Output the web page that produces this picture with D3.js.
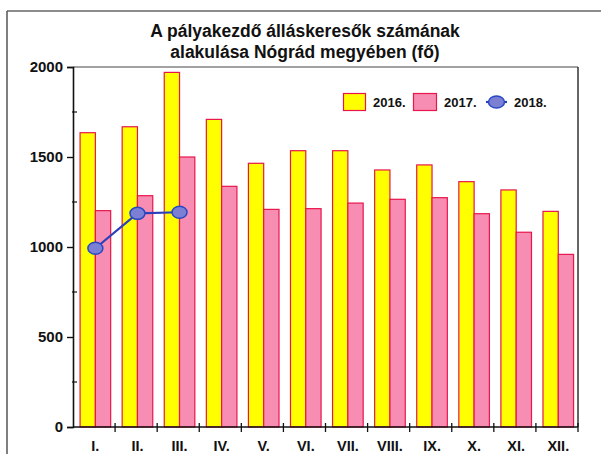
<!DOCTYPE html>
<html><head><meta charset="utf-8">
<script src="https://cdn.jsdelivr.net/npm/d3@7"></script>
<style>body{margin:0;background:#fff}svg{display:block}text{font-family:"Liberation Sans",Arial,sans-serif;font-weight:bold;fill:#111}</style>
</head><body><svg id="c" width="601" height="454"></svg>
<script>
const titleLines = ["A pályakezdő álláskeresők számának", "alakulása Nógrád megyében (fő)"];
const categories = ["I.","II.","III.","IV.","V.","VI.","VII.","VIII.","IX.","X.","XI.","XII."];
const values2016 = [1635,1668,1970,1709,1465,1535,1535,1428,1456,1363,1317,1198];
const values2017 = [1202,1285,1500,1337,1209,1213,1244,1265,1274,1185,1082,959];
const values2018 = [993,1187,1193];
const seriesNames = ["2016.","2017.","2018."];
const yTicks = [0,500,1000,1500,2000];
const yMinorTicks = [250,750,1250,1750];

const svg = d3.select("#c");
const L=73, R=578, T=67, B=427;
const x0 = d3.scaleBand().domain(categories).range([L,R]).padding(0);
const bw = x0.bandwidth();
const x1 = d3.scaleBand().domain(["2016","2017"]).range([0.168*bw, 0.895*bw]).padding(0);
const y = d3.scaleLinear().domain([0,2000]).range([B,T]);

// outer frame
svg.append("line").attr("x1",7).attr("x2",601).attr("y1",11).attr("y2",11).attr("stroke","#666").attr("stroke-width",1.5);
svg.append("line").attr("x1",7).attr("x2",7).attr("y1",11).attr("y2",454).attr("stroke","#555").attr("stroke-width",1.5);

// title
svg.selectAll("text.title").data(titleLines).join("text").attr("class","title")
  .attr("x",305).attr("y",(d,i)=>36.5+i*21.5).attr("text-anchor","middle")
  .style("font-size","17.5px").text(d=>d);

// plot border
svg.append("line").attr("x1",L).attr("x2",R).attr("y1",T).attr("y2",T).attr("stroke","#444").attr("stroke-width",1);
svg.append("line").attr("x1",R).attr("x2",R).attr("y1",T).attr("y2",B).attr("stroke","#333").attr("stroke-width",1.5);

// bars
const barStroke="#e8164c";
const g = svg.append("g");
categories.forEach((c,i)=>{
  [["2016",values2016[i],"#ffff00"],["2017",values2017[i],"#f78db2"]].forEach(([s,v,col])=>{
    g.append("rect").attr("x",x0(c)+x1(s)).attr("y",y(v)).attr("width",x1.bandwidth()).attr("height",y(0)-y(v))
      .attr("fill",col).attr("stroke",barStroke).attr("stroke-width",1.2);
  });
});

// y axis
const yAxis = d3.axisLeft(y).tickValues(yTicks).tickFormat(d3.format("d")).tickSize(6).tickPadding(4);
const ya = svg.append("g").attr("transform",`translate(${L},0)`).call(yAxis);
ya.select(".domain").attr("stroke","#111").attr("stroke-width",1.6);
ya.selectAll(".tick line").attr("stroke","#111").attr("stroke-width",1.4);
ya.selectAll(".tick text").style("font-size","15px").attr("font-family",null).attr("fill","#111");
svg.append("g").selectAll("line").data(yMinorTicks).join("line")
  .attr("x1",L-1).attr("x2",L+4).attr("y1",d=>y(d)).attr("y2",d=>y(d)).attr("stroke","#111").attr("stroke-width",1.2);

// x axis
const xAxis = d3.axisBottom(x0).tickSize(0).tickPadding(14);
const xa = svg.append("g").attr("transform",`translate(0,${B})`).call(xAxis);
xa.select(".domain").remove();
xa.selectAll(".tick text").style("font-size","14.5px").attr("font-family",null).attr("fill","#111")
  .attr("x", (0.168+0.895)/2*bw - bw/2);
svg.append("line").attr("x1",L).attr("x2",R).attr("y1",B).attr("y2",B).attr("stroke","#111").attr("stroke-width",1.6);
const bounds = categories.map(c=>x0(c)+bw);
svg.append("g").selectAll("line").data(bounds).join("line")
  .attr("x1",d=>d).attr("x2",d=>d).attr("y1",B-4).attr("y2",B+5).attr("stroke","#111").attr("stroke-width",1.3);

// 2018 line
const cx = (i)=>x0(categories[i]) + x1.range()[0] + x1.bandwidth();
const line = d3.line().x((d,i)=>cx(i)).y(d=>y(d));
svg.append("path").datum(values2018).attr("d",line).attr("fill","none").attr("stroke","#2a40b8").attr("stroke-width",2.2);
svg.append("g").selectAll("ellipse").data(values2018).join("ellipse")
  .attr("cx",(d,i)=>cx(i)).attr("cy",d=>y(d)).attr("rx",7.5).attr("ry",6)
  .attr("fill","#7c80d4").attr("stroke","#2747c4").attr("stroke-width",1.5);

// legend
const lg = svg.append("g");
lg.append("rect").attr("x",343.5).attr("y",93.5).attr("width",22).attr("height",17).attr("fill","#ffff00").attr("stroke",barStroke).attr("stroke-width",1.2);
lg.append("text").attr("x",373).attr("y",106.5).style("font-size","13px").text(seriesNames[0]);
lg.append("rect").attr("x",413.5).attr("y",93.5).attr("width",23).attr("height",17).attr("fill","#f78db2").attr("stroke",barStroke).attr("stroke-width",1.2);
lg.append("text").attr("x",444).attr("y",106.5).style("font-size","13px").text(seriesNames[1]);
lg.append("line").attr("x1",486).attr("x2",507).attr("y1",102).attr("y2",102).attr("stroke","#2a40b8").attr("stroke-width",2.2);
lg.append("ellipse").attr("cx",496.5).attr("cy",102).attr("rx",8).attr("ry",6).attr("fill","#7c80d4").attr("stroke","#2747c4").attr("stroke-width",1.5);
lg.append("text").attr("x",514).attr("y",106.5).style("font-size","13px").text(seriesNames[2]);
</script></body></html>
